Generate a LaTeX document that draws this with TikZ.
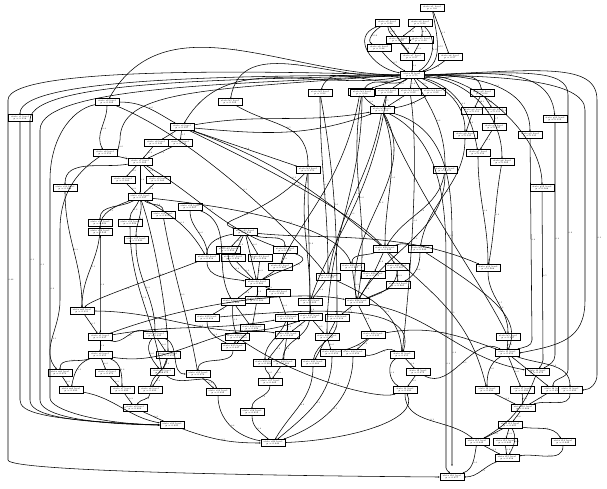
\documentclass[tikz,border=0pt]{standalone}
\usetikzlibrary{arrows.meta}
\tikzset{
  bx/.style={draw, line width=0.55pt, fill=white, inner sep=0.5pt, minimum width=24pt, minimum height=7pt, align=center, font=\fontsize{2.2}{2.5}\selectfont},
  edg/.style={line width=0.55pt, -{Stealth[length=1.6pt,width=1.4pt]}},
  lbl/.style={font=\fontsize{2}{2.3}\selectfont, inner sep=0.4pt, right}
}
\newcommand\E[4][]{\draw[edg,#1] (#2) to node[lbl]{#4} (#3);}
\begin{document}
\begin{tikzpicture}[x=1pt,y=-1pt]
\useasboundingbox (0,0) rectangle (607,488);
\foreach \n/\x/\y in {
 a1/432/8, a2/387/23, a3/420/23, a4/398/40, a5/421/40, a6/379/48, a7/412/57, a8/450/57,
 H/412/75, b1/360/92, b2/387/92, b3/410/92, b4/433/92, b5/382/110,
 g2/482/93, g3/473/111, g4/494/111, g5/494/127, g6/465/135, g7/478/153, g8/502/162,
 g9/530/135, g10/555/119, g11/445/170, g12/542/188, g13/488/268,
 k1/230/102, k2/320/93, k3/362/93, k4/308/170,
 c1/20/118, c2/107/102, c3/182/127, c4/156/143, c5/180/143, c6/105/153, c7/140/162,
 c8/123/180, c9/158/180, c10/65/188, c11/140/197, c12/190/207, c13/100/223, c14/130/223,
 c15/163/215, c16/100/232, c17/136/240,
 d1/245/232, d2/228/250, d3/260/258, d4/285/250, d5/280/267, d6/207/258, d7/233/258,
 d8/257/283, d9/278/293, d10/233/302, d11/257/300, d12/207/318, d13/237/337, d14/252/328,
 d15/233/347, d16/287/318, d17/310/317, d18/337/318, d19/328/277, d20/310/302, d21/287/335,
 d22/327/337, d23/373/335, d24/385/249, d25/352/267, d26/373/275, d27/397/267, d28/357/302,
 d29/265/363, d30/283/363, d31/313/363, d32/332/353, d33/353/353,
 h2/420/249, h4/398/285, h5/508/337,
 e1/100/337, e2/155/335, e3/100/355, e4/168/355, e5/107/373, e6/162/372, e7/122/390,
 e8/150/390, e9/135/408, e10/172/425, e11/198/374, e13/218/392, e17/270/382, e18/252/412,
 e20/273/443, m2/82/311, m3/60/373, m4/71/390,
 f1/402/355, f2/418/372, f3/405/390, f4/537/372, f5/507/353, f6/487/390, f7/522/390,
 f8/553/390, f9/570/390, f10/523/408, f11/510/425, f12/477/442, f13/505/442, f14/563/442,
 f15/507/458, f16/452/477}
 \node[bx] (\n) at (\x,\y) {state \n{} level\\ p = 0.\y};
% ---- top cluster
\E[bend right=20]{a2}{a4}{0.31}
\E[out=210,in=150]{a2}{a6}{0.12}
\E[out=200,in=170,looseness=1.4]{a2}{H}{0.08}
\E{a2}{a7}{0.2}
\E{a3}{a4}{0.11}
\E[bend left=15]{a3}{a5}{0.4}
\E[out=-40,in=30]{a3}{H}{0.05}
\E[out=-80,in=20]{a1}{H}{0.55}
\E{a1}{a8}{0.1}
\E{a4}{a7}{0.6}
\E{a5}{a7}{0.3}
\E[bend right=10]{a6}{H}{0.7}
\E{a7}{H}{1.0}
\E[bend left=10]{a8}{H}{0.9}
\E{a4}{a5}{0.2}
\E{H}{b1}{0.1}
\E{H}{b2}{0.2}
\E{H}{b3}{0.2}
\E{H}{b4}{0.1}
\E{b2}{b5}{0.5}
\E{b3}{b5}{0.5}
\E[bend right=10]{b1}{b5}{0.3}
\E[bend left=10]{b4}{b5}{0.2}
% ---- right upper
\E[out=-10,in=100]{H}{g2}{0.2}
\E{g2}{g3}{0.4}
\E{g2}{g4}{0.6}
\E{g4}{g5}{0.7}
\E[out=-20,in=90]{H}{g6}{0.1}
\E[out=-15,in=100]{H}{g7}{0.1}
\E[out=-5,in=90]{H}{g8}{0.1}
\E[out=0,in=90]{H}{g9}{0.1}
\E[out=0,in=95]{H}{g10}{0.1}
\E[out=-60,in=90]{H}{g11}{0.2}
\E[out=0,in=90,looseness=0.8]{H}{g12}{0.1}
\E{g5}{g7}{0.3}
\E{g3}{g6}{0.2}
\E[out=-90,in=90]{g7}{g13}{0.4}
\E[out=-100,in=80]{g8}{g13}{0.2}
\E[out=-90,in=80]{g6}{h2}{0.3}
\E[out=-90,in=60]{g11}{d28}{0.3}
\E[out=-90,in=90]{g13}{h5}{0.5}
\E[out=-100,in=60]{g11}{d24}{0.2}
% ---- verticals on the right
\draw[edg] (g9) -- node[lbl]{0.4} (532,340) to[out=-90,in=20] (f5);
\draw[edg] (g12) -- node[lbl]{0.5} (543,360) to[out=-90,in=60] (f4);
\draw[edg] (g10) -- node[lbl]{0.3} (555,355) to[out=-90,in=30] (f4);
\draw[edg] (H.east) .. controls (520,72) and (568,68) .. (568,95) -- node[lbl]{0.2} (568,370) to[out=-90,in=90] (f8);
\draw[edg] (H.east) .. controls (540,70) and (597,62) .. (597,100) -- node[lbl]{0.1} (597,375) to[out=-90,in=0] (f9.east);
\draw[edg] (H.east) .. controls (500,76) and (585,80) .. (585,110) -- (585,300) .. controls (585,340) and (560,345) .. (f5.east);
% ---- left upper
\E[out=180,in=60]{H}{c2}{0.2}
\E[out=185,in=80]{H}{k1}{0.1}
\E[out=200,in=70]{H}{k2}{0.1}
\E[out=220,in=60]{H}{k3}{0.1}
\E[out=190,in=60]{H}{c3}{0.2}
\E[out=10,in=190]{c3}{b5}{0.1}
\E[out=-5,in=200]{c3}{b5}{}
\E{c3}{k4}{0.3}
\E[out=-30,in=90,looseness=1.2]{k1}{k4}{0.5}
\E[out=-90,in=90]{k4}{d17}{0.2}
\E[out=-100,in=90]{k4}{d20}{0.3}
\E[out=-90,in=90]{k2}{d19}{0.1}
\E[out=-80,in=90]{k2}{d18}{0.1}
\E[out=-90,in=90]{k3}{d22}{0.2}
\E[out=-100,in=80]{k3}{d28}{0.2}
\E{c3}{c4}{0.4}
\E{c3}{c5}{0.5}
\E{c4}{c7}{0.3}
\E{c5}{c7}{0.3}
\E{c6}{c7}{0.5}
\E{c7}{c8}{0.4}
\E{c7}{c9}{0.4}
\E{c7}{c11}{0.3}
\E{c8}{c11}{0.3}
\E{c9}{c11}{0.3}
\E[out=-150,in=90]{c11}{c13}{0.2}
\E[out=-110,in=90]{c11}{c14}{0.2}
\E[out=-40,in=90]{c11}{c15}{0.3}
\E[out=-160,in=90]{c11}{c16}{0.1}
\E[out=-80,in=90]{c11}{c17}{0.1}
\E[out=-70,in=90,looseness=0.6]{c11}{e4}{0.2}
\E[out=-30,in=120]{c11}{d6}{0.1}
\E[out=190,in=90]{c7}{c10}{0.2}
\E[out=-90,in=90]{c10}{m2}{0.3}
\E[out=-30,in=160]{c7}{d4}{0.1}
\E[out=-20,in=140]{c3}{d24}{0.1}
\E[out=-90,in=120]{c2}{c6}{0.4}
\E[out=0,in=150]{c2}{c3}{0.2}
\E[out=-90,in=90]{c12}{d6}{0.2}
\E[out=-20,in=120]{c12}{d10}{0.1}
\E[out=-90,in=90]{c13}{m2}{0.1}
\E[out=-90,in=90]{c16}{e1}{0.2}
\E[out=-90,in=90]{c17}{e2}{0.3}
\E[out=-90,in=100]{c14}{e6}{0.2}
\E[out=-80,in=100]{c15}{e11}{0.1}
% ---- middle cluster
\E{d1}{d2}{0.2}
\E{d1}{d3}{0.2}
\E[out=-20,in=90]{d1}{d4}{0.1}
\E[out=190,in=90]{d1}{d6}{0.1}
\E{d1}{d7}{0.2}
\E{d1}{d8}{0.4}
\E[out=-90,in=150]{d2}{d8}{0.3}
\E{d3}{d8}{0.3}
\E[out=-20,in=30,looseness=1.5]{d4}{d8}{0.2}
\E{d4}{d5}{0.3}
\E{d5}{d8}{0.3}
\E[out=-90,in=170]{d6}{d8}{0.2}
\E{d7}{d8}{0.3}
\E{d8}{d10}{0.2}
\E{d8}{d11}{0.2}
\E{d8}{d9}{0.3}
\E{d10}{d12}{0.1}
\E[bend right=10]{d10}{d13}{0.2}
\E{d10}{d14}{0.2}
\E{d11}{d14}{0.2}
\E{d9}{d16}{0.4}
\E[out=-90,in=150]{d12}{d15}{0.3}
\E{d13}{d15}{0.2}
\E{d14}{d15}{0.2}
\E[out=-90,in=90]{d15}{e11}{0.3}
\E{d16}{d21}{0.2}
\E[out=-110,in=90]{d16}{d29}{0.2}
\E{d17}{d21}{0.1}
\E{d17}{d22}{0.1}
\E[out=-100,in=90]{d17}{d30}{0.2}
\E{d18}{d22}{0.2}
\E[out=-90,in=80]{d18}{d31}{0.3}
\E{d20}{d17}{0.4}
\E{d19}{d20}{0.3}
\E{d21}{d29}{0.2}
\E{d21}{d30}{0.2}
\E{d22}{d31}{0.1}
\E{d22}{d32}{0.2}
\E{d23}{d33}{0.3}
\E[bend left=10]{d23}{d32}{0.1}
\E{d28}{d23}{0.3}
\E{d28}{d18}{0.2}
\E[out=200,in=90]{d24}{d25}{0.2}
\E{d24}{d26}{0.2}
\E{d24}{d27}{0.2}
\E[bend left=20]{d24}{h2}{0.1}
\E{d25}{d28}{0.3}
\E{d26}{d28}{0.4}
\E[out=-90,in=20]{d27}{d28}{0.3}
\E{h4}{d28}{0.2}
\E[out=-90,in=30]{h2}{h4}{0.3}
\E{d27}{h4}{0.3}
\E[out=-90,in=90]{d29}{e17}{0.2}
\E{d30}{e17}{0.3}
\E[out=-90,in=60]{d31}{e20}{0.2}
\E[out=-90,in=40]{d32}{e20}{0.1}
\E[out=-90,in=20]{d33}{e20}{0.1}
\E[out=-90,in=90]{e17}{e18}{0.2}
\E[out=-90,in=140]{e18}{e20}{0.4}
\E{e11}{e13}{0.3}
\E[out=-90,in=170]{e13}{e20}{0.3}
% ---- lower left
\E{m2}{e1}{0.5}
\E{e1}{e3}{0.4}
\E[out=200,in=90]{e3}{m3}{0.2}
\E{e3}{e5}{0.2}
\E[out=-20,in=90]{e3}{e7}{0.2}
\E[out=-160,in=80]{e3}{m4}{0.1}
\E{m3}{m4}{0.3}
\E{e5}{e7}{0.3}
\E[out=-20,in=160]{e1}{e2}{0.1}
\E{e2}{e4}{0.2}
\E[out=-130,in=130]{e2}{e6}{0.2}
\E{e4}{e6}{0.3}
\E[out=-100,in=80]{e4}{e8}{0.2}
\E{e6}{e8}{0.3}
\E[out=-90,in=60]{e8}{e9}{0.4}
\E{e7}{e9}{0.3}
\E{e9}{e10}{0.4}
\E[out=-20,in=180]{e10}{e20}{0.5}
\E[out=-10,in=170]{m4}{e10}{0.2}
\E[out=-20,in=180]{e2}{e11}{0.1}
\E[out=-40,in=110]{e6}{e13}{0.1}
\E[out=-10,in=170]{e3}{d21}{0.1}
\E[out=10,in=190]{e1}{d16}{0.1}
\E[out=0,in=200]{m2}{d17}{0.1}
% ---- lower right
\E{f1}{f2}{0.3}
\E{f2}{f3}{0.3}
\E[out=-150,in=150]{f1}{f3}{0.2}
\E[out=-150,in=90]{f5}{f6}{0.2}
\E{f5}{f7}{0.2}
\E{f5}{f8}{0.3}
\E[out=-20,in=90]{f5}{f9}{0.2}
\E{f6}{f10}{0.3}
\E{f7}{f10}{0.3}
\E{f8}{f10}{0.2}
\E[out=-90,in=20]{f9}{f10}{0.2}
\E{f10}{f11}{0.6}
\E{f11}{f12}{0.2}
\E{f11}{f13}{0.3}
\E[out=-10,in=120]{f11}{f14}{0.1}
\E{f12}{f15}{0.2}
\E{f13}{f15}{0.4}
\E[out=-90,in=10]{f14}{f15}{0.3}
\E[out=-60,in=60]{f11}{f15}{0.2}
\E[out=200,in=0]{f15}{f16}{0.3}
\E[out=-100,in=20]{f12}{f16}{0.2}
\E[out=-110,in=30]{f4}{f12}{0.2}
\E[out=-90,in=140]{f3}{f12}{0.1}
\E{h5}{f5}{0.4}
\E[out=-30,in=150]{f2}{f5}{0.1}
\E[out=10,in=160]{d23}{f5}{0.2}
\E[out=-10,in=150]{d33}{f1}{0.1}
\E[out=-10,in=170]{d28}{f4}{0.1}
% ---- long lines from b5 and H
\E[out=-70,in=90]{b5}{d24}{0.2}
\E[out=-100,in=80]{b5}{d19}{0.3}
\E[out=-60,in=100]{b5}{d28}{0.2}
\draw[edg] (b5) .. controls (440,140) and (446,200) .. (446,260) -- node[lbl]{0.3} (446,468) to[out=-90,in=120] (f16);
\draw[edg] (b5) .. controls (450,130) and (452,190) .. (452,240) -- node[lbl]{0.2} (452,466);
\draw[edg] (b5) .. controls (420,200) and (480,280) .. node[lbl]{0.1} (h5);
\draw[edg] (b3) .. controls (420,160) and (410,280) .. node[lbl]{0.2} (f1);
\draw[edg] (b2) .. controls (372,200) and (330,240) .. node[lbl]{0.1} (d20);
\draw[edg] (b1) .. controls (345,180) and (300,220) .. node[lbl]{0.1} (d5);
% ---- left border and bundles
\draw[edg] (H.west) .. controls (300,72) and (8,64) .. (8,100) -- node[lbl]{0.02} (8,460) .. controls (8,472) and (300,476) .. (f16.west);
\draw[edg] (H.west) .. controls (260,76) and (20,76) .. node[lbl]{0.1} (c1);
\draw[edg] (c1) -- (20,400) .. controls (20,412) and (40,420) .. node[lbl]{0.1} (e10.west);
\draw[edg] (H.west) .. controls (260,80) and (30,78) .. (30,120) -- node[lbl]{0.1} (30,400) .. controls (30,414) and (60,422) .. (e10.west);
\draw[edg] (H.west) .. controls (260,84) and (40,84) .. (40,130) -- node[lbl]{0.1} (40,400) .. controls (40,414) and (80,424) .. (e10.west);
\draw[edg] (c2) .. controls (70,110) and (50,140) .. (50,180) -- node[lbl]{0.2} (50,398) .. controls (50,410) and (100,424) .. (e10.west);
\draw[edg] (c6) .. controls (80,170) and (60,190) .. (60,230) -- (60,300) .. controls (60,330) and (40,350) .. node[lbl]{0.1} (m3);
\draw[edg] (H.west) .. controls (200,90) and (120,90) .. (120,140) -- node[lbl]{0.2} (c6.east);
% ---- crossing diagonals
\draw[edg] (c3) .. controls (250,160) and (350,210) .. node[lbl]{0.1} (d24);
\draw[edg] (c2) .. controls (200,140) and (300,240) .. node[lbl]{0.1} (d19);
\draw[edg] (c11) .. controls (260,210) and (340,230) .. node[lbl]{0.1} (d25);
\draw[edg] (d24) .. controls (440,300) and (470,320) .. node[lbl]{0.1} (f6);
\draw[edg] (h2) .. controls (500,300) and (520,320) .. node[lbl]{0.2} (f5);
\draw[edg] (d1) .. controls (320,240) and (400,230) .. node[lbl]{0.1} (g13);
\draw[edg] (d12) .. controls (300,310) and (420,300) .. node[lbl]{0.1} (f1);
\draw[edg] (e1) .. controls (200,300) and (300,290) .. node[lbl]{0.1} (d28);
\draw[edg] (d6) .. controls (150,280) and (90,300) .. node[lbl]{0.2} (m2);
\draw[edg] (d13) .. controls (300,380) and (380,400) .. node[lbl]{0.1} (f3);
\draw[edg] (e20) .. controls (350,440) and (420,420) .. node[lbl]{0.1} (f3);
\draw[edg] (k4) .. controls (260,220) and (210,220) .. node[lbl]{0.2} (d1);
\draw[edg] (d19) .. controls (380,300) and (400,320) .. node[lbl]{0.1} (f1);
\end{tikzpicture}
\end{document}
